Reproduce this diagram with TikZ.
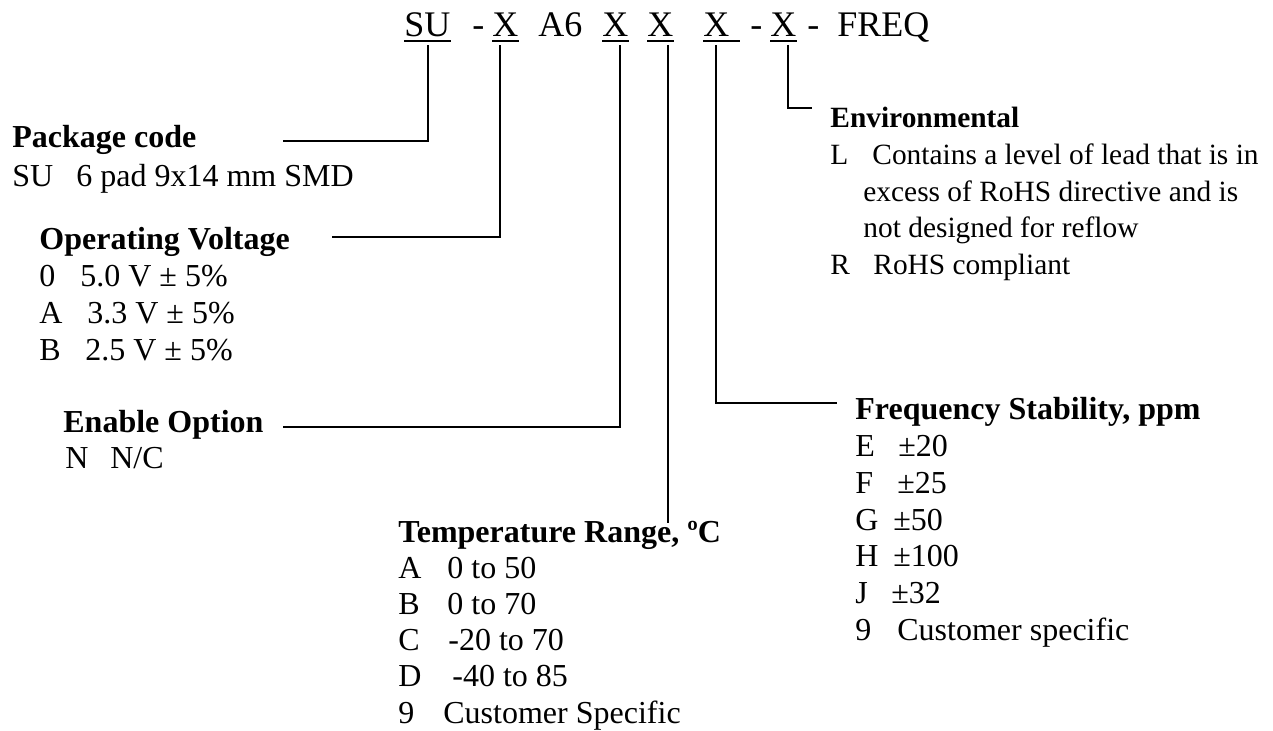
\documentclass[tikz,border=0pt]{standalone}
\usepackage{fontspec}
\setmainfont{Liberation Serif}
\usetikzlibrary{positioning}

\newcommand{\pick}[2]{\makebox[#1][l]{#2}}

\tikzset{
  txt/.style={inner sep=0pt, anchor=base west, font=\fontsize{16}{19}\selectfont},
  head/.style={txt, font=\fontsize{16}{19}\selectfont\bfseries},
  small/.style={txt, font=\fontsize{14.7}{17}\selectfont},
  code/.style={inner sep=0pt, anchor=base west, font=\fontsize{18}{21}\selectfont},
  lead/.style={line width=1pt}
}

\begin{document}
\begin{tikzpicture}[x=0.5pt,y=-0.5pt]
\useasboundingbox (0,0) rectangle (1273,731);

% Part number
\node[code] (su)    at (404,37) {SU};
\node[code] (dsh1)  at (472,37) {-};
\node[code] (xv)    at (492,37) {X};
\node[code] (a6)    at (538,37) {A6};
\node[code] (xe)    at (602,37) {X};
\node[code] (xt)    at (647,37) {X};
\node[code] (xf)    at (703,37) {X};
\node[code] (dsh2)  at (750,37) {-};
\node[code] (xr)    at (770,37) {X};
\node[code] (dsh3)  at (807,37) {-};
\node[code] (freq)  at (837,37) {FREQ};

% Underlines
\foreach \n in {su,xv,xe,xt,xr}
{
\draw[lead] ([yshift=-2.2pt]\n.base west) -- ([yshift=-2.2pt]\n.base east);
}
\draw[lead] ([yshift=-2.2pt]xf.base west) -- ([yshift=-2.2pt,xshift=5pt]xf.base east);

% Taps below the code
\coordinate (tapSU) at (428,45);
\coordinate (tapV)  at (500,45);
\coordinate (tapE)  at (620,45);
\coordinate (tapT)  at (668,45);
\coordinate (tapF)  at (716,45);
\coordinate (tapR)  at (788,45);

% Package code
\node[head] (pkgHead) at (12,148) {Package code};
\node[txt] (pkg1) at (12,187) {\pick{32pt}{SU}6 pad 9x14 mm SMD};
\coordinate (endPkg) at (283,141);
\draw[lead] (endPkg) -| (tapSU);

% Operating voltage
\node[head] (ovHead) at (39,250) {Operating Voltage};
\foreach \lbl/\w/\val [count=\i] in {0/20.5pt/5.0 V ± 5\%, A/24pt/3.3 V ± 5\%, B/23pt/2.5 V ± 5\%}
{
\node[txt] (ov\i) at (39,250+37*\i) {\pick{\w}{\lbl}\val};
}
\coordinate (endOv) at (332,237);
\draw[lead] (endOv) -| (tapV);

% Enable option
\node[head] (enHead) at (63,433) {Enable Option};
\node[txt] (en1) at (65,469) {\pick{22.5pt}{N}N/C};
\coordinate (endEn) at (283,427);
\draw[lead] (endEn) -| (tapE);

% Temperature range
\node[head] (tpHead) at (398,542) {Temperature Range, ºC};
\foreach \lbl/\w/\val [count=\i] in {A/24.5pt/0 to 50, B/24.5pt/0 to 70, C/25pt/-20 to 70, D/27pt/-40 to 85, 9/22.5pt/Customer Specific}
{
\node[txt] (tp\i) at (398,542+36.2*\i) {\pick{\w}{\lbl}\val};
}
\coordinate (endTp) at (668,523);
\draw[lead] (tapT) -- (endTp);

% Frequency stability
\node[head] (fsHead) at (855,420) {Frequency Stability, ppm};
\foreach \lbl/\w/\val [count=\i] in {E/21.5pt/±20, F/21pt/±25, G/19pt/±50, H/19pt/±100, J/18pt/±32, 9/21pt/Customer specific}
{
\node[txt] (fs\i) at (855,420+36.7*\i) {\pick{\w}{\lbl}\val};
}
\coordinate (endFs) at (837,403);
\draw[lead] (tapF) |- (endFs);

% Environmental
\node[small, font=\fontsize{14.7}{17}\selectfont\bfseries] (evHead) at (830,128) {Environmental};
\node[small] (ev1) at (830,165) {\pick{21pt}{L}Contains a level of lead that is in};
\node[small] (ev2) at (863,201.5) {excess of RoHS directive and is};
\node[small] (ev3) at (863,238) {not designed for reflow};
\node[small] (ev4) at (830,274.5) {\pick{21.5pt}{R}RoHS compliant};
\coordinate (endEv) at (812,108);
\draw[lead] (tapR) |- (endEv);

\end{tikzpicture}
\end{document}
